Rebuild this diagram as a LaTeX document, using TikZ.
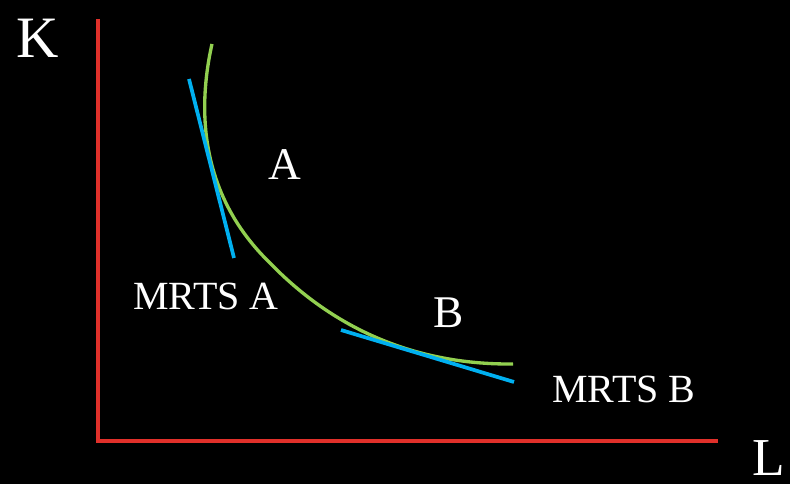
\documentclass[tikz,border=0pt]{standalone}
\usepackage{fontspec}
\setmainfont{Liberation Serif}
\usetikzlibrary{positioning}
\definecolor{axisred}{HTML}{E0302A}
\definecolor{isoquant}{HTML}{92D050}
\definecolor{tangent}{HTML}{00B0F0}
\newcommand{\lbl}[1]{\fontsize{#1}{#1}\selectfont}
\begin{document}
\begin{tikzpicture}[x=0.75pt,y=-0.75pt,
  axis/.style={draw=axisred,line width=2.6pt},
  curve/.style={draw=isoquant,line width=2.5pt},
  tline/.style={draw=tangent,line width=2.8pt},
  txt/.style={text=white,inner sep=0pt}]
\fill[black] (0,0) rectangle (790,484);
\useasboundingbox (0,0) rectangle (790,484);
% axes
\coordinate (ktop) at (98,19);
\coordinate (o) at (98,441);
\coordinate (lend) at (718,441);
\draw[axis] (ktop) -- (o) -- (lend);
\node[txt,font=\lbl{44pt}] (k) at (38,38) {K};
\node[txt,font=\lbl{40pt}] (l) at (769,458) {L};
% isoquant
\coordinate (qa) at (212,44);
\coordinate (qm) at (270,263);
\coordinate (qb) at (513,364);
\draw[curve] (qa) .. controls (195,120) and (205,200) .. (qm)
  .. controls (330,325) and (410,365) .. (qb);
% tangents
\coordinate (ta1) at (189,79);
\coordinate (ta2) at (234,258);
\coordinate (tb1) at (341,330);
\coordinate (tb2) at (514,382);
\draw[tline] (ta1) -- (ta2);
\draw[tline] (tb1) -- (tb2);
% labels
\node[txt,font=\lbl{34pt}] (a) at (285,165) {A};
\node[txt,font=\lbl{34pt}] (b) at (449,313) {B};
\node[txt,font=\lbl{30pt}] (ma) at (206,296) {MRTS A};
\node[txt,font=\lbl{30pt}] (mb) at (624,389) {MRTS B};
\end{tikzpicture}
\end{document}
